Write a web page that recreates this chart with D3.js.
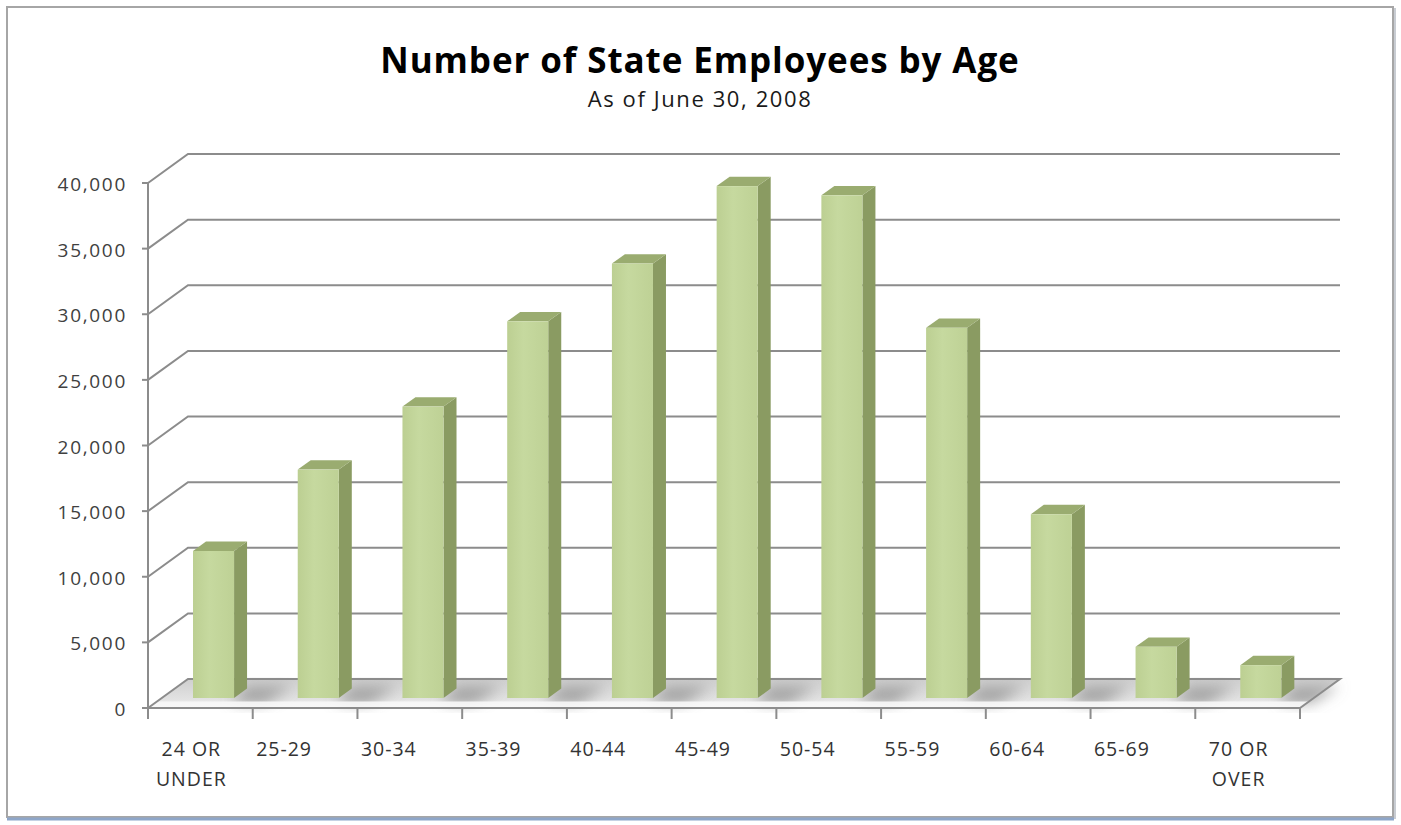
<!DOCTYPE html>
<html>
<head>
<meta charset="utf-8">
<script src="https://cdn.jsdelivr.net/npm/d3@7"></script>
<style>
  html, body { margin: 0; padding: 0; background: #ffffff; }
  svg { display: block; }
  text { font-family: "Open Sans", "Noto Sans", sans-serif; }
</style>
</head>
<body>
<svg id="chart" width="1401" height="825"></svg>
<script>
// ---- data ----
const categories = ["24 OR UNDER", "25-29", "30-34", "35-39", "40-44", "45-49", "50-54", "55-59", "60-64", "65-69", "70 OR OVER"];
const tickLabels = [["24 OR", "UNDER"], ["25-29"], ["30-34"], ["35-39"], ["40-44"], ["45-49"], ["50-54"], ["55-59"], ["60-64"], ["65-69"], ["70 OR", "OVER"]];
const values = [11200, 17400, 22200, 28700, 33100, 39000, 38300, 28200, 14000, 3900, 2500];
const yTicks = [0, 5000, 10000, 15000, 20000, 25000, 30000, 35000, 40000];
const titleText = "Number of State Employees by Age";
const subtitleText = "As of June 30, 2008";

// ---- layout ----
const W = 1401, H = 825;
const svg = d3.select("#chart");
const depthX = 40, depthY = -29;          // full depth of the 3D box
const d1 = 0.345, d2 = 0.67;               // bar depth range
const barStart = 0.298, barWidthFrac = 0.392;

const x = d3.scaleBand().domain(categories).range([148, 1300]).paddingInner(0).paddingOuter(0);
const y = d3.scaleLinear().domain([0, 40000]).range([708, 183]);
const bw = x.bandwidth();

const defs = svg.append("defs");

// chart border
svg.append("rect").attr("x", 7).attr("y", 7).attr("width", 1386).attr("height", 810)
  .attr("fill", "#fff").attr("stroke", "#a6a6a6").attr("stroke-width", 2);
svg.append("line").attr("x1", 7).attr("x2", 1394).attr("y1", 819).attr("y2", 819)
  .attr("stroke", "#8ea6c9").attr("stroke-width", 3);
svg.append("line").attr("x1", 1395).attr("x2", 1395).attr("y1", 8).attr("y2", 819)
  .attr("stroke", "#c8ccd2").attr("stroke-width", 2);

// title
svg.append("text").attr("x", 700).attr("y", 73).attr("text-anchor", "middle")
  .attr("font-size", 35).attr("font-weight", 700).attr("fill", "#000")
  .attr("letter-spacing", "0.9px").text(titleText);
svg.append("text").attr("x", 700).attr("y", 107).attr("text-anchor", "middle")
  .attr("font-size", 22).attr("fill", "#1a1a1a").attr("letter-spacing", "1.6px").text(subtitleText);

const grid = svg.append("g");
const gridColor = "#8c8c8c";

// floor
const floorGrad = defs.append("linearGradient").attr("id", "floorGrad")
  .attr("x1", 0).attr("y1", 0).attr("x2", 0).attr("y2", 1);
floorGrad.append("stop").attr("offset", "0%").attr("stop-color", "#cfcfcf");
floorGrad.append("stop").attr("offset", "70%").attr("stop-color", "#e2e2e2");
floorGrad.append("stop").attr("offset", "100%").attr("stop-color", "#fbfbfb");

const x0 = 148, x1 = 1300, yb = y(0);
grid.append("polygon")
  .attr("points", [[x0, yb], [x1, yb], [x1 + depthX, yb + depthY], [x0 + depthX, yb + depthY]].map(p => p.join(",")).join(" "))
  .attr("fill", "url(#floorGrad)");

// bar shadows on floor
const blur = defs.append("filter").attr("id", "blur").attr("x", "-50%").attr("y", "-50%").attr("width", "200%").attr("height", "200%");
blur.append("feGaussianBlur").attr("stdDeviation", 7);
const shadowG = grid.append("g").attr("filter", "url(#blur)");
categories.forEach((c, i) => {
  const fx = x(c) + bw * (barStart + barWidthFrac);
  const pts = [
    [fx + d1 * depthX - 4, yb + d1 * depthY + 5],
    [fx + d2 * depthX, yb + d2 * depthY - 2],
    [fx + d2 * depthX + 46, yb + d2 * depthY - 2],
    [fx + d1 * depthX + 30, yb + d1 * depthY + 6]
  ];
  shadowG.append("polygon").attr("points", pts.map(p => p.join(",")).join(" "))
    .attr("fill", "#7a7a7a").attr("opacity", 0.6);
});

// front floor band
grid.append("polygon")
  .attr("points", [[x0, yb], [x1, yb], [x1 + 9, yb - 6.5], [x0 + 9, yb - 6.5]].map(p => p.join(",")).join(" "))
  .attr("fill", "#f7f7f7").attr("opacity", 0.9);

// gridlines (back wall + left diagonal)
yTicks.forEach(t => {
  const yf = y(t);
  const pts = [[148, yf], [148 + depthX, yf + depthY], [1300 + depthX, yf + depthY]];
  if (t === 0) pts.push([1300, yf]);
  grid.append("polyline").attr("points", pts.map(p => p.join(",")).join(" "))
    .attr("fill", "none").attr("stroke", gridColor).attr("stroke-width", 2);
});

// y axis
svg.append("line").attr("x1", 148).attr("x2", 148).attr("y1", y(40000)).attr("y2", y(0))
  .attr("stroke", gridColor).attr("stroke-width", 2);
const yAxis = svg.append("g").selectAll("g").data(yTicks).join("g");
yAxis.append("line").attr("x1", 142).attr("x2", 148).attr("y1", d => y(d)).attr("y2", d => y(d))
  .attr("stroke", gridColor).attr("stroke-width", 2);
yAxis.append("text").attr("x", 127).attr("y", d => y(d) + 8).attr("text-anchor", "end")
  .attr("font-size", 19).attr("letter-spacing", "1.7px").attr("fill", "#404040")
  .text(d => d3.format(",")(d));

// x axis
svg.append("line").attr("x1", 147).attr("x2", 1300).attr("y1", y(0)).attr("y2", y(0))
  .attr("stroke", gridColor).attr("stroke-width", 2);
const bounds = categories.map(c => x(c)).concat([x(categories[categories.length - 1]) + bw]);
svg.append("g").selectAll("line").data(bounds).join("line")
  .attr("x1", d => d).attr("x2", d => d).attr("y1", y(0)).attr("y2", y(0) + 11)
  .attr("stroke", gridColor).attr("stroke-width", 2);
const xl = svg.append("g").selectAll("text").data(categories).join("text")
  .attr("text-anchor", "middle").attr("font-size", 19.5).attr("letter-spacing", "1px").attr("fill", "#333");
xl.each(function (c, i) {
  const lines = tickLabels[i];
  const cx = x(c) + bw / 2 + (lines.length > 1 ? -9 : -21);
  d3.select(this).selectAll("tspan").data(lines).join("tspan")
    .attr("x", cx).attr("y", (d, j) => 756 + j * 30).text(d => d);
});

// bars
const frontGrad = defs.append("linearGradient").attr("id", "frontGrad").attr("x1", 0).attr("x2", 1).attr("y1", 0).attr("y2", 0);
frontGrad.append("stop").attr("offset", "0%").attr("stop-color", "#bccf92");
frontGrad.append("stop").attr("offset", "40%").attr("stop-color", "#c6d99f");
frontGrad.append("stop").attr("offset", "100%").attr("stop-color", "#bed195");

const bars = svg.append("g").selectAll("g").data(categories).join("g");
bars.each(function (c, i) {
  const g = d3.select(this);
  const v = values[i];
  const lx = x(c) + bw * barStart + d1 * depthX;
  const rx = lx + bw * barWidthFrac;
  const ty = y(v) + d1 * depthY;
  const by = y(0) + d1 * depthY;
  const ddx = (d2 - d1) * depthX, ddy = (d2 - d1) * depthY;
  // side
  g.append("polygon").attr("points", [[rx, ty], [rx + ddx, ty + ddy], [rx + ddx, by + ddy], [rx, by]].map(p => p.join(",")).join(" "))
    .attr("fill", "#8a9b62");
  // top
  g.append("polygon").attr("points", [[lx, ty], [rx, ty], [rx + ddx, ty + ddy], [lx + ddx, ty + ddy]].map(p => p.join(",")).join(" "))
    .attr("fill", "#9aac70");
  // front
  g.append("rect").attr("x", lx).attr("y", ty).attr("width", rx - lx).attr("height", by - ty)
    .attr("fill", "url(#frontGrad)");
});
</script>
</body>
</html>
